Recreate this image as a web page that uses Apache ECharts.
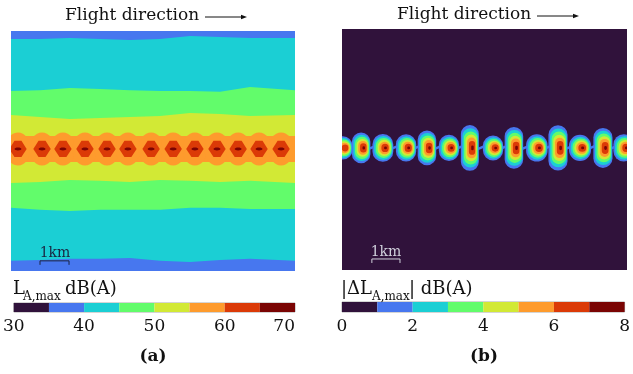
<!DOCTYPE html>
<html>
<head>
<meta charset="utf-8">
<script src="https://cdn.jsdelivr.net/npm/echarts@6/dist/echarts.min.js"></script>
<style>
html, body { margin: 0; padding: 0; background: #fff; }
#chart { width: 633px; height: 374px; }
</style>
</head>
<body>
<div id="chart"></div>
<script>
// turbo colour levels shared by both colour bars
var levelColors = ['#30123b', '#4777ef', '#1bcfd4', '#62fc6b', '#d2e935', '#fe9b2d', '#db3a07', '#7a0403'];
var breaksA = [30, 35, 40, 45, 50, 55, 60, 65, 70];
var breaksB = [0, 1, 2, 3, 4, 5, 6, 7, 8];

// panel (a): L_A,max contour edges, km from the flight track, sampled along the track
var edgeX = [0, 1.0, 2.03, 3.07, 4.1, 5.14, 6.17, 7.21, 8.24, 9.79];
var edge40Top = [3.79, 3.79, 3.83, 3.79, 3.76, 3.79, 3.90, 3.86, 3.83, 3.83];
var edge40Bot = [-3.86, -3.83, -3.79, -3.79, -3.76, -3.86, -3.90, -3.83, -3.79, -3.86];
var edge45Top = [2.0, 2.03, 2.10, 2.07, 2.03, 2.0, 2.0, 1.97, 2.14, 2.03];
var edge45Bot = [-2.03, -2.10, -2.14, -2.10, -2.10, -2.10, -2.03, -2.03, -2.07, -2.07];
var edge50Top = [1.17, 1.10, 1.03, 1.07, 1.10, 1.14, 1.24, 1.21, 1.14, 1.17];
var edge50Bot = [-1.17, -1.14, -1.07, -1.10, -1.14, -1.07, -1.10, -1.14, -1.10, -1.17];
var edge55Half = 0.45;
// hotspots along the track (km)
var hotA = [0.24, 1.07, 1.79, 2.55, 3.31, 4.03, 4.83, 5.59, 6.34, 7.10, 7.83, 8.55, 9.31];

// panel (b): |dL_A,max| blobs, centre along track and outer (1 dB) half sizes in km
var blobX = [0.03, 0.66, 1.41, 2.21, 2.93, 3.69, 4.41, 5.21, 5.93, 6.72, 7.45, 8.21, 9.0, 9.72];
var blobH = [0.40, 0.53, 0.48, 0.47, 0.60, 0.45, 0.79, 0.43, 0.72, 0.47, 0.78, 0.45, 0.69, 0.47];
var blobW = [0.33, 0.32, 0.36, 0.35, 0.32, 0.35, 0.31, 0.35, 0.32, 0.37, 0.33, 0.38, 0.33, 0.36];
var blobPeak = [6, 7, 7, 7, 7, 7, 7, 7, 7, 7, 7, 7, 7, 7];

var SERIF = '"DejaVu Serif", serif';

var bandsA = [
    { level: 2, top: edge40Top, bot: edge40Bot },
    { level: 3, top: edge45Top, bot: edge45Bot },
    { level: 4, top: edge50Top, bot: edge50Bot }
];

function bandItem(params, api) {
    var band = bandsA[params.dataIndex];
    var pts = [];
    for (var i = 0; i < edgeX.length; i++) pts.push(api.coord([edgeX[i], band.top[i]]));
    for (var j = edgeX.length - 1; j >= 0; j--) pts.push(api.coord([edgeX[j], band.bot[j]]));
    return { type: 'polygon', shape: { points: pts }, style: { fill: levelColors[band.level] } };
}

function stripItem(params, api) {
    var p0 = api.coord([edgeX[0], edge55Half]);
    var p1 = api.coord([edgeX[edgeX.length - 1], -edge55Half]);
    return { type: 'rect', shape: { x: p0[0], y: p0[1], width: p1[0] - p0[0], height: p1[1] - p0[1] },
        style: { fill: levelColors[5] } };
}

function bulgeItem(params, api) {
    var c = api.coord([api.value(0), 0]);
    var s = api.size([0.43, 0.57]);
    return { type: 'ellipse', shape: { cx: c[0], cy: c[1], rx: s[0], ry: s[1] }, style: { fill: levelColors[5] } };
}

function diamondItem(params, api) {
    var c = api.coord([api.value(0), 0]);
    var s = api.size([0.30, 0.28]);
    var core = api.size([0.12, 0.05]);
    var w = s[0], h = s[1];
    var pts = [[c[0] - w, c[1]], [c[0] - w * 0.4, c[1] - h], [c[0] + w * 0.4, c[1] - h],
        [c[0] + w, c[1]], [c[0] + w * 0.4, c[1] + h], [c[0] - w * 0.4, c[1] + h]];
    return { type: 'group', children: [
        { type: 'polygon', shape: { points: pts }, style: { fill: levelColors[6] } },
        { type: 'ellipse', shape: { cx: c[0], cy: c[1], rx: core[0], ry: core[1] }, style: { fill: levelColors[7] } }
    ] };
}

// nested rings of a blob, outer (blue) to inner (dark red)
var ringW = [1, 0.88, 0.76, 0.63, 0.5, 0.35, 0.14];
var ringH = [1, 0.86, 0.72, 0.58, 0.45, 0.3, 0.1];
function blobItem(params, api) {
    var i = params.dataIndex;
    var children = [];
    for (var l = 0; l < blobPeak[i]; l++) {
        var c = api.coord([blobX[i] + l * 0.015, 0]);
        var s = api.size([blobW[i] * ringW[l], blobH[i] * ringH[l]]);
        children.push({ type: 'rect',
            shape: { x: c[0] - s[0], y: c[1] - s[1], width: 2 * s[0], height: 2 * s[1], r: s[0] },
            style: { fill: levelColors[l + 1] } });
    }
    return { type: 'group', children: children };
}

function bridgeItem(params, api) {
    var mid = api.value(0);
    var a = api.coord([mid - 0.13, -0.04]);
    var b = api.coord([mid + 0.13, 0.07]);
    return { type: 'line', shape: { x1: a[0], y1: a[1], x2: b[0], y2: b[1] },
        style: { stroke: levelColors[1], lineWidth: 2.5 } };
}

function scaleBarItem(color) {
    return function (params, api) {
        var p0 = api.coord([api.value(0), api.value(2)]);
        var p1 = api.coord([api.value(1), api.value(2)]);
        return { type: 'polyline', shape: { points: [[p0[0], p0[1] + 4], p0, p1, [p1[0], p1[1] + 4]] },
            style: { stroke: color, lineWidth: 1, fill: null } };
    };
}

function swatchItem(params, api) {
    var p0 = api.coord([api.value(0), 1]);
    var p1 = api.coord([api.value(1), 0]);
    return { type: 'rect', shape: { x: p0[0], y: p0[1], width: p1[0] - p0[0], height: p1[1] - p0[1] },
        style: { fill: levelColors[params.dataIndex] } };
}

function swatches(breaks) {
    var out = [];
    for (var i = 0; i < breaks.length - 1; i++) out.push([breaks[i], breaks[i + 1]]);
    return out;
}

var bridgeX = [];
for (var k = 0; k < blobX.length - 1; k++) bridgeX.push([(blobX[k] + blobX[k + 1]) / 2, 0]);

// plain text on top of everything
function label(x, y, text, font, fill, align) {
    return { type: 'text', z: 100, x: x, y: y,
        style: { text: text, font: font, fill: fill || '#111', align: align || 'left', verticalAlign: 'middle' } };
}

var hiddenAxis = { show: false };
var chart = echarts.init(document.getElementById('chart'));

chart.setOption({
    animation: false,
    grid: [
        { left: 11, top: 31, width: 284, height: 240, show: true, borderWidth: 0, backgroundColor: levelColors[1] },
        { left: 342, top: 29, width: 285, height: 241, show: true, borderWidth: 0, backgroundColor: levelColors[0] },
        { left: 10, top: 303, width: 285, height: 9, show: true, borderColor: '#aaa', borderWidth: 1 },
        { left: 342, top: 302, width: 286, height: 10, show: true, borderColor: '#aaa', borderWidth: 1 }
    ],
    xAxis: [
        Object.assign({ gridIndex: 0, type: 'value', min: 0, max: 9.79 }, hiddenAxis),
        Object.assign({ gridIndex: 1, type: 'value', min: 0, max: 9.83 }, hiddenAxis),
        { gridIndex: 2, type: 'value', min: 30, max: 70, interval: 10,
            axisLine: { show: false }, axisTick: { show: false }, splitLine: { show: false },
            axisLabel: { fontSize: 17, fontFamily: SERIF, color: '#111', margin: 6, alignMaxLabel: 'right' } },
        { gridIndex: 3, type: 'value', min: 0, max: 8, interval: 2,
            axisLine: { show: false }, axisTick: { show: false }, splitLine: { show: false },
            axisLabel: { fontSize: 17, fontFamily: SERIF, color: '#111', margin: 6 } }
    ],
    yAxis: [
        Object.assign({ gridIndex: 0, type: 'value', min: -4.21, max: 4.07 }, hiddenAxis),
        Object.assign({ gridIndex: 1, type: 'value', min: -4.21, max: 4.10 }, hiddenAxis),
        Object.assign({ gridIndex: 2, type: 'value', min: 0, max: 1 }, hiddenAxis),
        Object.assign({ gridIndex: 3, type: 'value', min: 0, max: 1 }, hiddenAxis)
    ],
    series: [
        { type: 'custom', xAxisIndex: 0, yAxisIndex: 0, clip: true, renderItem: bandItem,
            data: bandsA.map(function () { return [edgeX[0], 0]; }) },
        { type: 'custom', xAxisIndex: 0, yAxisIndex: 0, clip: true, renderItem: stripItem, data: [[0, 0]] },
        { type: 'custom', xAxisIndex: 0, yAxisIndex: 0, clip: true, renderItem: bulgeItem,
            data: hotA.map(function (x) { return [x, 0]; }) },
        { type: 'custom', xAxisIndex: 0, yAxisIndex: 0, clip: true, renderItem: diamondItem,
            data: hotA.map(function (x) { return [x, 0]; }) },
        { type: 'custom', xAxisIndex: 0, yAxisIndex: 0, renderItem: scaleBarItem('#1a2440'),
            data: [[1.0, 2.0, -3.86]] },

        { type: 'custom', xAxisIndex: 1, yAxisIndex: 1, clip: true, renderItem: bridgeItem, data: bridgeX },
        { type: 'custom', xAxisIndex: 1, yAxisIndex: 1, clip: true, renderItem: blobItem,
            data: blobX.map(function (x) { return [x, 0]; }) },
        { type: 'custom', xAxisIndex: 1, yAxisIndex: 1, renderItem: scaleBarItem('#d0d0dc'),
            data: [[1.03, 2.0, -3.83]] },

        { type: 'custom', xAxisIndex: 2, yAxisIndex: 2, renderItem: swatchItem, data: swatches(breaksA) },
        { type: 'custom', xAxisIndex: 3, yAxisIndex: 3, renderItem: swatchItem, data: swatches(breaksB) }
    ],
    graphic: [
        label(65, 16, 'Flight direction', '17px ' + SERIF),
        { type: 'line', z: 100, shape: { x1: 205, y1: 17, x2: 243, y2: 17 }, style: { stroke: '#111', lineWidth: 1 } },
        { type: 'polygon', z: 100, shape: { points: [[241, 14.8], [247, 17], [241, 19.2]] }, style: { fill: '#111' } },
        label(397, 15, 'Flight direction', '17px ' + SERIF),
        { type: 'line', z: 100, shape: { x1: 537, y1: 16, x2: 575, y2: 16 }, style: { stroke: '#111', lineWidth: 1 } },
        { type: 'polygon', z: 100, shape: { points: [[573, 13.8], [579, 16], [573, 18.2]] }, style: { fill: '#111' } },

        label(55, 253, '1km', '14px ' + SERIF, '#1a2440', 'center'),
        label(386, 252, '1km', '14px ' + SERIF, '#d0d0dc', 'center'),

        label(13, 289, 'L', '18px ' + SERIF),
        label(23, 297, 'A,max', '12px ' + SERIF),
        label(65, 289, 'dB(A)', '18px ' + SERIF),

        label(341, 289, '|ΔL', '18px ' + SERIF),
        label(372, 297, 'A,max', '12px ' + SERIF),
        label(409, 289, '| dB(A)', '18px ' + SERIF),

        label(153, 357, '(a)', 'bold 17px ' + SERIF, '#111', 'center'),
        label(484, 357, '(b)', 'bold 17px ' + SERIF, '#111', 'center')
    ]
});

window.addEventListener('resize', function () {
    chart.resize();
});
</script>
</body>
</html>
